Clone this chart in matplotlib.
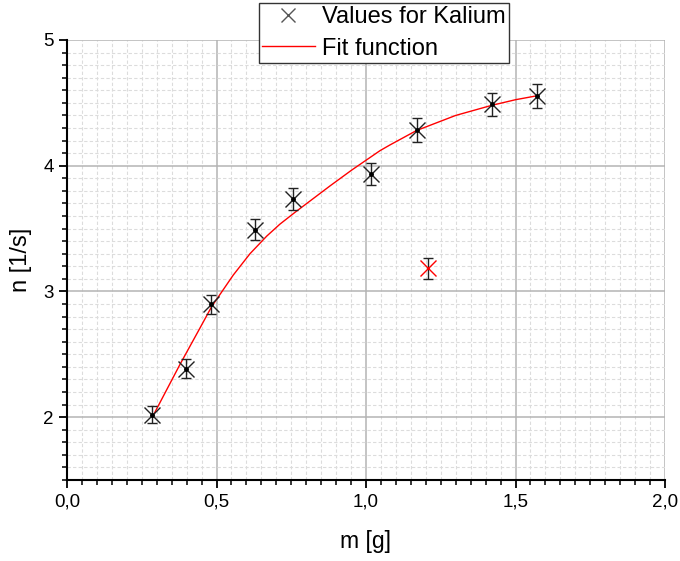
import numpy as np
import matplotlib.pyplot as plt
from matplotlib.lines import Line2D
from matplotlib.ticker import MultipleLocator, FuncFormatter

plt.rcParams['font.family'] = ['Liberation Sans', 'DejaVu Sans']

# Messwerte (Kalium)
m = [0.284, 0.398, 0.480, 0.629, 0.757, 1.017, 1.169, 1.420, 1.571]
n = [2.02, 2.386, 2.897, 3.49, 3.736, 3.934, 4.286, 4.487, 4.556]
n_err = [0.070, 0.074, 0.076, 0.083, 0.088, 0.087, 0.094, 0.094, 0.097]

# Ausreisser (rot)
m_out = [1.209]
n_out = [3.185]
n_out_err = [0.083]

# Fitkurve
m_fit = [0.292, 0.378, 0.445, 0.484, 0.556, 0.612, 0.668, 0.712, 0.763,
         0.880, 0.952, 1.047, 1.080, 1.169, 1.300, 1.420, 1.500, 1.571]
n_fit = [2.03, 2.42, 2.71, 2.88, 3.13, 3.30, 3.44, 3.535, 3.63,
         3.84, 3.965, 4.12, 4.165, 4.28, 4.40, 4.48, 4.525, 4.556]

fig = plt.figure(figsize=(6.8, 5.61), dpi=100)
ax = fig.add_axes([67 / 680, 1 - 480 / 561, 598 / 680, 440 / 561])

ax.set_xlim(0, 2.0)
ax.set_ylim(1.5, 5.0)

# Gitter
ax.xaxis.set_major_locator(MultipleLocator(0.5))
ax.xaxis.set_minor_locator(MultipleLocator(0.05))
ax.yaxis.set_major_locator(MultipleLocator(1))
ax.yaxis.set_minor_locator(MultipleLocator(0.1))
ax.grid(which='minor', color='#dcdcdc', linestyle=(0, (3, 2)), linewidth=0.8)
ax.grid(which='major', color='#b4b4b4', linestyle='-', linewidth=1.1)
ax.set_axisbelow(True)

ax.xaxis.set_major_formatter(FuncFormatter(lambda v, p: f'{v:.1f}'.replace('.', ',')))
ax.yaxis.set_major_formatter(FuncFormatter(lambda v, p: f'{v:.0f}'))
ax.set_yticks([2, 3, 4, 5])

for s in ['top', 'right']:
    ax.spines[s].set_visible(False)
for s in ['left', 'bottom']:
    ax.spines[s].set_linewidth(1.5)

ax.tick_params(which='major', direction='out', length=6, width=1.3, labelsize=13.5)
ax.tick_params(which='minor', direction='out', length=3.5, width=1.1)

# Fit
ax.plot(m_fit, n_fit, color='red', linewidth=1.0, zorder=3)

# Messpunkte
ax.errorbar(m, n, yerr=n_err, fmt='none', ecolor='#222222', elinewidth=1.0,
            capsize=3.3, capthick=1.0, zorder=4)
ax.plot(m, n, linestyle='none', marker='x', markersize=11, color='#222222',
        markeredgewidth=1.0, zorder=5)
ax.plot(m, n, linestyle='none', marker='o', markersize=2.5, color='black', zorder=6)

ax.errorbar(m_out, n_out, yerr=n_out_err, fmt='none', ecolor='#222222', elinewidth=1.0,
            capsize=3.3, capthick=1.0, zorder=4)
ax.plot(m_out, n_out, linestyle='none', marker='x', markersize=11, color='red',
        markeredgewidth=1.0, zorder=5)

ax.set_xlabel('m [g]', fontsize=16.5, labelpad=14)
ax.set_ylabel('n [1/s]', fontsize=17, labelpad=8)

handles = [Line2D([], [], linestyle='none', marker='x', markersize=10, color='#555555',
                  markeredgewidth=1.0),
           Line2D([], [], color='red', linewidth=1.0)]
leg = fig.legend(handles, ['Values for Kalium', 'Fit function'],
                 loc='upper left', bbox_to_anchor=(259 / 680, 1 - 3 / 561),
                 fontsize=17, frameon=True, fancybox=False, framealpha=1,
                 edgecolor='#333333', borderaxespad=0, handlelength=2.25,
                 borderpad=0.12, labelspacing=0.42, handletextpad=0.3)
leg.get_frame().set_linewidth(1.0)

fig.savefig('out.png', dpi=100)
